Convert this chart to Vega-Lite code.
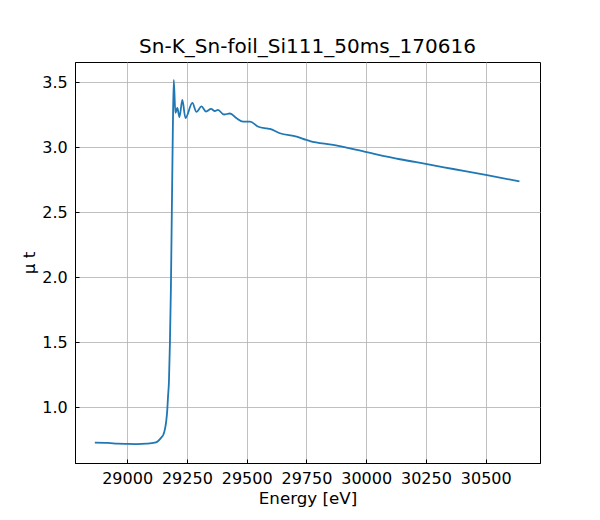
{
  "$schema": "https://vega.github.io/schema/vega-lite/v6.json",
  "autosize": {"type": "none"},
  "padding": {"left": 75, "top": 62, "right": 60, "bottom": 57},
  "width": 465,
  "height": 401,
  "title": {
    "text": "Sn-K_Sn-foil_Si111_50ms_170616",
    "fontSize": 20,
    "fontWeight": "normal",
    "font": "DejaVu Sans",
    "color": "black",
    "offset": 5
  },
  "data": {
    "values": [
      {"energy": 28865, "mu": 0.728},
      {"energy": 28920, "mu": 0.726},
      {"energy": 28960, "mu": 0.72},
      {"energy": 28998, "mu": 0.718},
      {"energy": 29040, "mu": 0.717},
      {"energy": 29082, "mu": 0.72},
      {"energy": 29116, "mu": 0.728},
      {"energy": 29130, "mu": 0.741},
      {"energy": 29144, "mu": 0.77},
      {"energy": 29151, "mu": 0.787},
      {"energy": 29156, "mu": 0.815},
      {"energy": 29160, "mu": 0.85},
      {"energy": 29164, "mu": 0.9},
      {"energy": 29168, "mu": 0.98},
      {"energy": 29171, "mu": 1.08},
      {"energy": 29175, "mu": 1.2},
      {"energy": 29179, "mu": 1.492},
      {"energy": 29183, "mu": 1.9},
      {"energy": 29187, "mu": 2.5},
      {"energy": 29191, "mu": 3.1},
      {"energy": 29195, "mu": 3.518},
      {"energy": 29202, "mu": 3.264},
      {"energy": 29210, "mu": 3.302},
      {"energy": 29219, "mu": 3.233},
      {"energy": 29231, "mu": 3.364},
      {"energy": 29244, "mu": 3.225},
      {"energy": 29273, "mu": 3.341},
      {"energy": 29290, "mu": 3.272},
      {"energy": 29311, "mu": 3.314},
      {"energy": 29330, "mu": 3.275},
      {"energy": 29351, "mu": 3.295},
      {"energy": 29367, "mu": 3.279},
      {"energy": 29380, "mu": 3.287},
      {"energy": 29405, "mu": 3.252},
      {"energy": 29430, "mu": 3.26},
      {"energy": 29458, "mu": 3.223},
      {"energy": 29485, "mu": 3.197},
      {"energy": 29514, "mu": 3.197},
      {"energy": 29549, "mu": 3.158},
      {"energy": 29584, "mu": 3.145},
      {"energy": 29597, "mu": 3.141},
      {"energy": 29639, "mu": 3.108},
      {"energy": 29709, "mu": 3.082},
      {"energy": 29751, "mu": 3.056},
      {"energy": 29765, "mu": 3.048},
      {"energy": 29862, "mu": 3.018},
      {"energy": 30002, "mu": 2.962},
      {"energy": 30141, "mu": 2.908},
      {"energy": 30249, "mu": 2.872},
      {"energy": 30364, "mu": 2.833},
      {"energy": 30500, "mu": 2.787},
      {"energy": 30641, "mu": 2.738}
    ]
  },
  "mark": {"type": "line", "color": "#1f77b4", "strokeWidth": 1.8, "interpolate": "monotone", "clip": true},
  "encoding": {
    "x": {
      "field": "energy",
      "type": "quantitative",
      "title": "Energy [eV]",
      "scale": {"domain": [28782, 30727], "nice": false, "zero": false},
      "axis": {"values": [29000, 29250, 29500, 29750, 30000, 30250, 30500], "format": "d"}
    },
    "y": {
      "field": "mu",
      "type": "quantitative",
      "title": "μ t",
      "scale": {"domain": [0.5715, 3.656], "nice": false, "zero": false},
      "axis": {"values": [1.0, 1.5, 2.0, 2.5, 3.0, 3.5], "format": ".1f"}
    }
  },
  "config": {
    "font": "DejaVu Sans",
    "view": {"stroke": "black", "strokeWidth": 1},
    "axis": {
      "grid": true,
      "gridColor": "#b0b0b0",
      "gridWidth": 0.8,
      "domainColor": "black",
      "domainWidth": 1,
      "tickColor": "black",
      "tickSize": -4,
      "labelFont": "DejaVu Sans",
      "labelFontSize": 16,
      "labelColor": "black",
      "titleFont": "DejaVu Sans",
      "titleFontSize": 16.7,
      "titleFontWeight": "normal",
      "titleColor": "black"
    },
    "axisBottom": {"labelPadding": 11, "titlePadding": 4},
    "axisLeft": {"labelPadding": 11.7, "titlePadding": 3}
  }
}
